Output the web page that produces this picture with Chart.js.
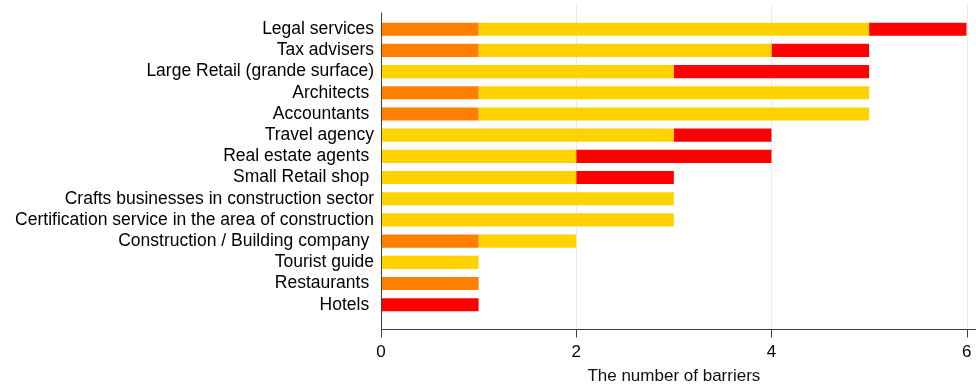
<!DOCTYPE html>
<html>
<head>
<meta charset="utf-8">
<script src="https://cdn.jsdelivr.net/npm/chart.js@4"></script>
<style>
    body { margin: 0; background: #fff; }
    #holder { width: 976px; height: 387px; position: relative; }
</style>
</head>
<body>
<div id="holder"><canvas id="chart"></canvas></div>
<script>
const categories = [
    "Legal services",
    "Tax advisers",
    "Large Retail (grande surface)",
    "Architects ",
    "Accountants ",
    "Travel agency",
    "Real estate agents ",
    "Small Retail shop ",
    "Crafts businesses in construction sector",
    "Certification service in the area of construction",
    "Construction / Building company ",
    "Tourist guide",
    "Restaurants ",
    "Hotels "
];
const orangeValues = [1, 1, 0, 1, 1, 0, 0, 0, 0, 0, 1, 0, 1, 0];
const yellowValues = [4, 3, 3, 4, 4, 3, 2, 2, 3, 3, 1, 1, 0, 0];
const redValues    = [1, 1, 2, 0, 0, 1, 2, 1, 0, 0, 0, 0, 0, 1];
const xTicks = [0, 2, 4, 6];
const xTitle = "The number of barriers";

const font = "'Liberation Sans', Arial, sans-serif";

// axis lines and grid are drawn by hand, they run past the plot area in the original
const axisLines = {
    id: 'axisLines',
    beforeDatasetsDraw(chart) {
        const ctx = chart.ctx;
        const x = chart.scales.x;
        const area = chart.chartArea;
        ctx.save();
        ctx.strokeStyle = '#e4ecf0';
        ctx.lineWidth = 1;
        xTicks.forEach(v => {
            if (v === 0) return;
            const px = Math.round(x.getPixelForValue(v)) + 0.5;
            ctx.beginPath();
            ctx.moveTo(px, area.top - 14);
            ctx.lineTo(px, area.bottom + 14);
            ctx.stroke();
        });
        ctx.restore();
    },
    afterDatasetsDraw(chart) {
        const ctx = chart.ctx;
        const x = chart.scales.x;
        const area = chart.chartArea;
        const left = Math.round(area.left) + 0.5;
        const base = Math.round(area.bottom + 14) + 0.5;
        ctx.save();
        ctx.strokeStyle = '#404040';
        ctx.lineWidth = 1;
        ctx.beginPath();
        ctx.moveTo(left, area.top - 6);
        ctx.lineTo(left, base);
        ctx.lineTo(chart.width, base);
        xTicks.forEach(v => {
            const px = Math.round(x.getPixelForValue(v)) + 0.5;
            ctx.moveTo(px, base);
            ctx.lineTo(px, base + 8);
        });
        ctx.stroke();
        ctx.restore();
    }
};

const config = {
    type: 'bar',
    data: {
        labels: categories,
        datasets: [
            { label: 'orange', data: orangeValues, backgroundColor: '#ff8000' },
            { label: 'yellow', data: yellowValues, backgroundColor: '#ffd200' },
            { label: 'red', data: redValues, backgroundColor: '#ff0000' }
        ]
    },
    options: {
        indexAxis: 'y',
        responsive: true,
        maintainAspectRatio: false,
        animation: false,
        layout: { padding: { top: 18.6, right: 9.3, bottom: 0, left: 0 } },
        datasets: {
            bar: { barPercentage: 0.62, categoryPercentage: 1 }
        },
        plugins: {
            legend: { display: false },
            tooltip: { enabled: false }
        },
        scales: {
            x: {
                type: 'linear',
                stacked: true,
                min: 0,
                max: 6,
                afterBuildTicks: s => { s.ticks = xTicks.map(v => ({ value: v })); },
                afterFit: s => {
                    s.height = 71.7;
                    s.paddingLeft = 0;
                    s.paddingRight = 0;
                },
                grid: { display: false, drawTicks: false },
                border: { display: false },
                ticks: { color: '#000', font: { family: font, size: 17 }, padding: 27 },
                title: {
                    display: true,
                    text: xTitle,
                    color: '#111',
                    font: { family: font, size: 17 },
                    padding: { top: 0, bottom: 0 }
                }
            },
            y: {
                stacked: true,
                afterFit: s => {
                    s.width = 381;
                    s.paddingTop = 0;
                    s.paddingBottom = 0;
                },
                grid: { display: false, drawTicks: false },
                border: { display: false },
                ticks: { color: '#000', font: { family: font, size: 17.5 }, padding: 7, autoSkip: false }
            }
        }
    },
    plugins: [axisLines]
};

const chart = new Chart(document.getElementById('chart'), config);
</script>
</body>
</html>
